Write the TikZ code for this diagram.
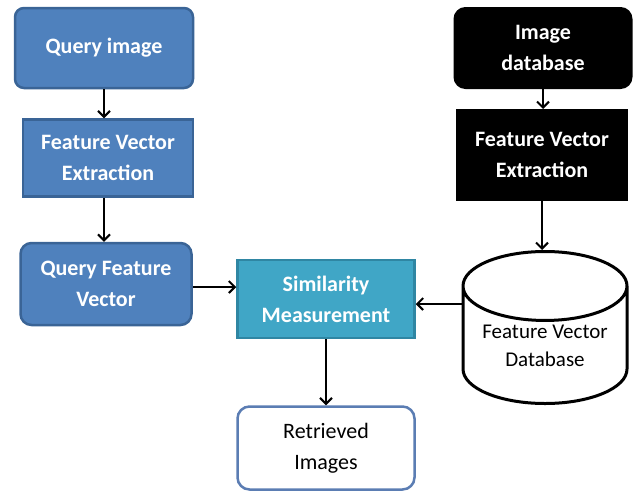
\documentclass[tikz,border=0pt]{standalone}
\usepackage{fontspec}
\setmainfont{Carlito}
\usetikzlibrary{shapes.geometric,arrows.meta}
\definecolor{qblue}{HTML}{4F81BD}
\definecolor{qblueline}{HTML}{3A6496}
\definecolor{simteal}{HTML}{40A6C6}
\definecolor{simline}{HTML}{2F86A3}
\definecolor{retline}{HTML}{5B7DB3}
\begin{document}
\begin{tikzpicture}[x=1pt,y=-1pt,
    bluebox/.style={draw=qblueline,line width=2.5pt,fill=qblue,text=white,align=center,inner sep=0pt,
      font=\fontsize{22}{31}\selectfont\bfseries},
    blackbox/.style={draw=black,line width=2pt,fill=black,text=white,align=center,inner sep=0pt,
      font=\fontsize{22}{31}\selectfont\bfseries},
    arr/.style={line width=2pt,-{Straight Barb[length=6pt,width=12pt]}}]
  \useasboundingbox (0,0) rectangle (634,493);
  % 問い合わせ画像
  \node[bluebox,rounded corners=9pt,minimum width=178pt,minimum height=80pt] (qimg) at (104,48) {Query image};
  % 特徴ベクトル抽出（左）
  \node[bluebox,minimum width=170pt,minimum height=77pt] (qfve) at (108,158) {Feature Vector\\Extraction};
  % 問い合わせ特徴ベクトル
  \node[bluebox,rounded corners=11pt,minimum width=171pt,minimum height=82pt] (qfv) at (106,284) {Query Feature\\Vector};
  % 類似度計算
  \node[bluebox,draw=simline,fill=simteal,minimum width=177pt,minimum height=78pt] (sim) at (326,299) {Similarity\\Measurement};
  % 検索結果
  \node[draw=retline,line width=2.5pt,rounded corners=12pt,fill=white,align=center,inner sep=0pt,
    minimum width=177pt,minimum height=83pt,font=\fontsize{22}{31}\selectfont] (ret) at (326,448) {Retrieved\\Images};
  % 画像データベース
  \node[blackbox,rounded corners=11pt,minimum width=177pt,minimum height=80pt] (idb) at (543,48) {Image\\database};
  % 特徴ベクトル抽出（右）
  \node[blackbox,minimum width=170pt,minimum height=90pt] (dfve) at (542,155) {Feature Vector\\Extraction};
  % 特徴ベクトルデータベース
  \node[cylinder,shape border rotate=90,aspect=0.55,draw,line width=3pt,align=center,inner sep=0pt,
    minimum width=164pt,minimum height=152pt,font=\fontsize{21}{28}\selectfont,anchor=top] (cyl) at (545,250)
    {Feature Vector\\Database};
  % 矢印
  \draw[arr] (qimg.south) -- (qimg.south |- qfve.north);
  \draw[arr] (qimg.south |- qfve.south) -- (qimg.south |- qfv.north);
  \draw[arr] (qfv.east |- 0,287) -- (sim.west |- 0,287);
  \draw[arr] (cyl.west |- 0,304) -- (sim.east |- 0,304);
  \draw[arr] (sim.south) -- (ret.north);
  \draw[arr] (idb.south) -- (idb.south |- dfve.north);
  \draw[arr] (dfve.south) -- (dfve.south |- cyl.top);
\end{tikzpicture}
\end{document}
